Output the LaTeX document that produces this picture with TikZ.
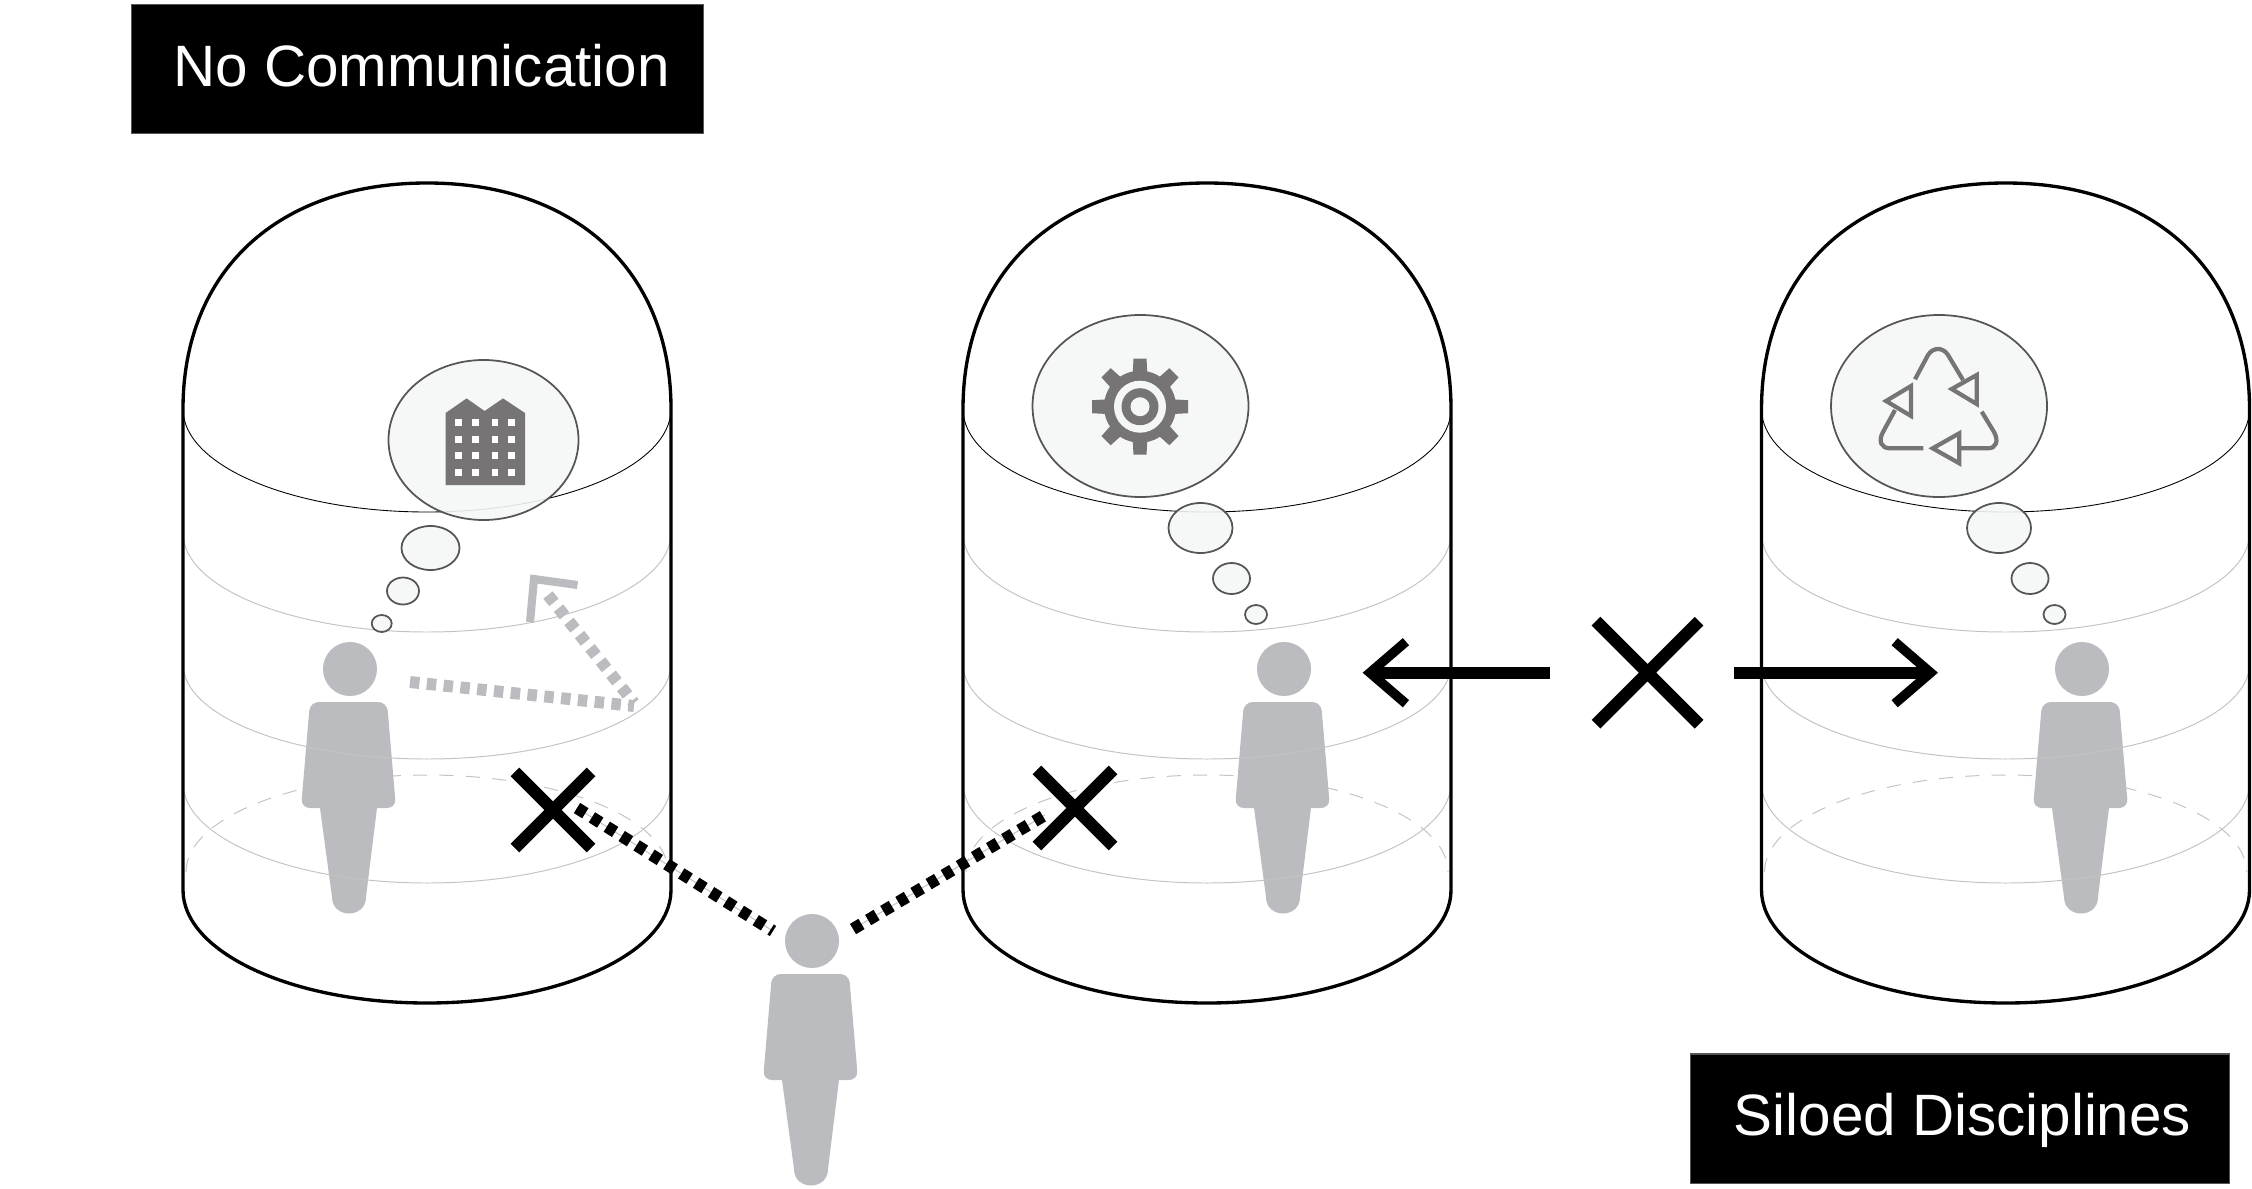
\documentclass[tikz,border=0pt]{standalone}
\usepackage{fontspec}
\setmainfont{Liberation Sans}
\usepackage{tikz}
\usetikzlibrary{arrows.meta,shapes.misc}
\definecolor{siloGray}{RGB}{187,188,191}
\definecolor{siloIcon}{RGB}{118,116,116}
\definecolor{siloCloud}{RGB}{245,247,246}
\definecolor{siloEdge}{RGB}{85,85,85}
\definecolor{siloRing}{RGB}{195,195,195}
\tikzset{
    base/.style={font=\fontsize{16.6pt}{20pt}\selectfont, align=center},
    tag/.style={base, rectangle, draw=siloEdge, line width=0.3pt, fill=black, text=white, inner sep=0pt,
                text height=12pt, text depth=2.3pt},
    headdot/.style={circle, fill=siloGray, inner sep=0pt, minimum size=5.4mm},
    crossmark/.style={rectangle, draw=black, cross out, inner sep=0pt, outer sep=0pt, line width=3.5pt},
    hull/.style={draw=black, line width=0.95pt},
    ring/.style={draw=siloRing, line width=0.28pt},
    rim/.style={draw=black, line width=0.25pt},
    floorline/.style={draw=siloRing, line width=0.28pt, dash pattern=on 4pt off 3.5pt},
    cloud/.style={draw=siloEdge, line width=0.5pt, fill=siloCloud, fill opacity=0.9},
    icon/.style={fill=siloIcon},
    cycleline/.style={draw=siloIcon, line width=1.2pt},
    nolink/.style={draw=black, line width=3.4pt, dash pattern=on 2.8pt off 2.2pt},
    thinlink/.style={draw=siloRing, line width=0.3pt},
    fadedlink/.style={draw=siloGray, line width=3.4pt, dash pattern=on 2.7pt off 2.1pt},
    fadedtip/.style={draw=siloGray, line width=2.3pt},
    bigarrow/.style={draw=black, line width=3.4pt, -{Straight Barb[length=3.6mm,width=6.2mm,line width=2.7pt]}},
    person/.pic={
        \fill[siloGray] [rounded corners=2.5pt] (-40,33) -- (37,33) -- (46,139) [sharp corners] -- (27,139) -- (16,228)
            .. controls (16,250) and (-18,250) .. (-18,228) -- (-30,139) [rounded corners=2.5pt] -- (-49,139) -- cycle;
    },
    silofloor/.pic={
        \draw[floorline] (-241,872) arc[start angle=180, end angle=360, x radius=241, y radius=97];
    },
    silorings/.pic={
        \draw[ring] (-244,533) arc[start angle=180, end angle=0, x radius=244, y radius=99];
        \draw[ring] (-244,664) arc[start angle=180, end angle=0, x radius=244, y radius=95];
        \draw[ring] (-244,783) arc[start angle=180, end angle=0, x radius=244, y radius=100];
        \draw[rim] (-244,409) arc[start angle=180, end angle=0, x radius=244, y radius=103];
    },
    silohull/.pic={
        \draw[hull] (-244,409) .. controls (-244,271) and (-149,183) .. (0,183)
            .. controls (149,183) and (244,271) .. (244,409) -- (244,890)
            arc[start angle=0, end angle=180, x radius=244, y radius=113] -- cycle;
    }
}

\begin{document}
\begin{tikzpicture}[x=0.01cm, y=-0.01cm]
  \useasboundingbox (0,0) rectangle (2252,1188);

  \pic at (427,0) {silofloor};
  \pic at (1207,0) {silofloor};
  \pic at (2005.5,0) {silofloor};

  \node[headdot] (headA) at (350,669) {};
  \node[headdot] (headB) at (1284,669) {};
  \node[headdot] (headC) at (2082,669) {};
  \node[headdot] (headD) at (812,941) {};
  \pic at (headA) {person};
  \pic at (headB) {person};
  \pic at (headC) {person};
  \pic at (headD) {person};

  \pic at (427,0) {silorings};
  \pic at (1207,0) {silorings};
  \pic at (2005.5,0) {silorings};

  % thought clouds
  \draw[cloud] (483.5,440) ellipse [x radius=95, y radius=80];
  \draw[cloud] (430.5,548) ellipse [x radius=29, y radius=22];
  \draw[cloud] (403,591) ellipse [x radius=16, y radius=13.5];
  \draw[cloud] (381.7,623.5) ellipse [x radius=10, y radius=8.5];
  \draw[cloud] (1140.5,406) ellipse [x radius=108, y radius=91];
  \draw[cloud] (1200.5,528) ellipse [x radius=32, y radius=25];
  \draw[cloud] (1231.5,578.5) ellipse [x radius=18.5, y radius=15.5];
  \draw[cloud] (1256,614.5) ellipse [x radius=11, y radius=9.5];
  \draw[cloud] (1939,406) ellipse [x radius=108, y radius=91];
  \draw[cloud] (1999,528) ellipse [x radius=32, y radius=25];
  \draw[cloud] (2030,578.5) ellipse [x radius=18.5, y radius=15.5];
  \draw[cloud] (2054.5,614.5) ellipse [x radius=11, y radius=9.5];

  % factory
  \fill[icon] (445.6,485) -- (445.6,413) -- (466.6,398.4) -- (484.6,411) -- (503,398.4) -- (525,413) -- (525,485) -- cycle;
  \foreach \wx in {458.6,475.4,495,511.4}
    \foreach \wy in {422.5,439,455,472}
      \fill[white] (\wx-3.3,\wy-3.5) rectangle (\wx+3.3,\wy+3.5);

  % gear
  \begin{scope}[shift={(1140,406.7)}]
    \foreach \ang in {0,45,...,315}
      \fill[icon, rotate=\ang] (-7.5,-30) -- (7.5,-30) -- (6.5,-48) -- (-6.5,-48) -- cycle;
    \fill[icon] (0,0) circle [radius=36];
    \fill[siloCloud] (0,0) circle [radius=26];
    \fill[icon] (0,0) circle [radius=18.5];
    \fill[siloCloud] (0,0) circle [radius=9.5];
  \end{scope}

  % recycling arrows
  \draw[cycleline] (1915,379.3) -- (1928,355) .. controls (1933,347) and (1943,347) .. (1948,355) -- (1963,380);
  \draw[cycleline] (1976.7,375) -- (1976.7,404) -- (1951.7,389) -- cycle;
  \draw[cycleline] (1981.7,411.7) -- (1994,432) .. controls (1999,441) and (1996,448.3) .. (1988,448.3) -- (1960,448.3);
  \draw[cycleline] (1959.3,433.3) -- (1959.3,463.3) -- (1932.7,448.3) -- cycle;
  \draw[cycleline] (1923.3,448.3) -- (1890,448.3) .. controls (1881,448.3) and (1878,441) .. (1883,432) -- (1895,410);
  \draw[cycleline] (1911,386) -- (1911,416) -- (1886,401) -- cycle;

  \pic at (427,0) {silohull};
  \pic at (1207,0) {silohull};
  \pic at (2005.5,0) {silohull};

  % dropped messages
  \node[crossmark, minimum size=7.6mm] (crossA) at (553,810) {};
  \node[crossmark, minimum size=7.6mm] (crossB) at (1075,808) {};
  \node[crossmark, minimum size=10.3mm] (crossBig) at (1647.5,672.7) {};

  \coordinate (linkAstart) at (577,808);
  \coordinate (linkAend) at (773,931);
  \coordinate (linkBstart) at (853,929);
  \coordinate (linkBend) at (1045,815);
  \draw[thinlink] (linkAstart) -- (linkAend);
  \draw[thinlink] (linkBstart) -- (linkBend);
  \draw[nolink] (linkAstart) -- (linkAend);
  \draw[nolink] (linkBstart) -- (linkBend);

  \coordinate (fadeFrom) at (410,682);
  \coordinate (fadeCorner) at (634,706);
  \coordinate (fadeTo) at (548,595);
  \draw[fadedlink] (fadeFrom) -- (fadeCorner);
  \draw[fadedlink] (fadeTo) -- (634,703);
  \draw[fadedtip] (577.5,585) -- (534,579) -- (530,622);

  \draw[bigarrow, shorten <=9.75mm, shorten >=7.86mm] (crossBig.center) -- (crossBig.center -| headB);
  \draw[bigarrow, shorten <=8.65mm, shorten >=14.4mm] (crossBig.center) -- (crossBig.center -| headC);

  \node[tag, minimum width=5.72cm, minimum height=1.285cm] (tagNo) at (417.5,69) {\hspace*{2.3pt}No Communication};
  \node[tag, minimum width=5.38cm, minimum height=1.29cm] (tagSiloed) at (1960,1118.5) {\hspace*{1.4pt}Siloed Disciplines};
\end{tikzpicture}
\end{document}
